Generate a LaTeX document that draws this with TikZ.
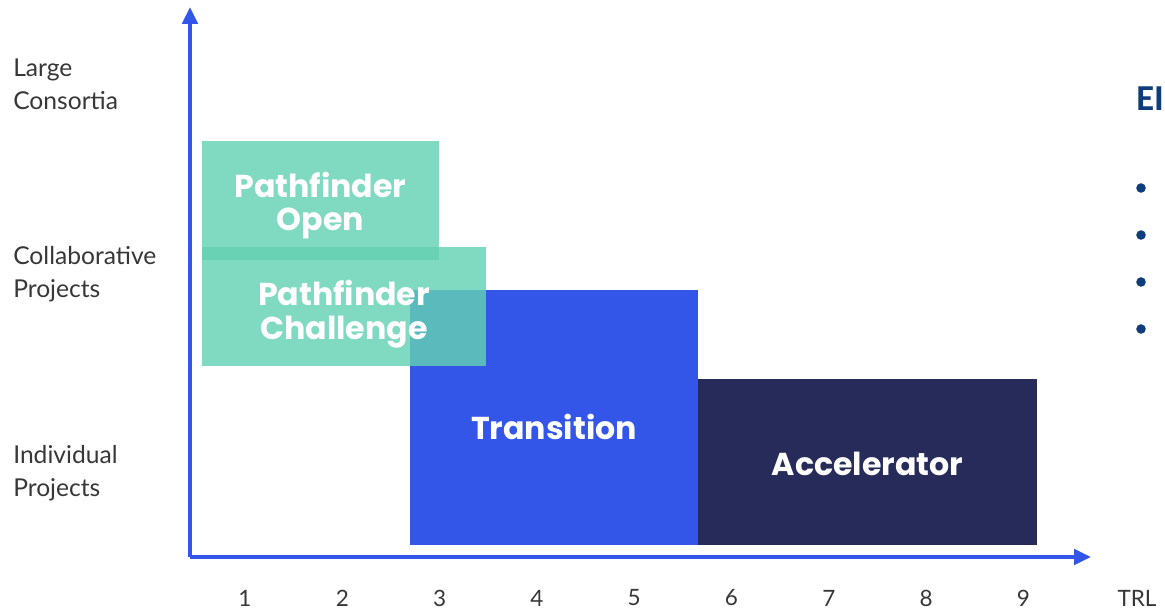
\documentclass[tikz,border=0pt]{standalone}
\usepackage{fontspec}
\setmainfont{Lato}
\newfontfamily\progfont{Poppins}
\newfontfamily\eifont{Carlito}
\usetikzlibrary{arrows.meta, positioning}
\definecolor{axisblue}{RGB}{51,85,232}
\definecolor{mint}{RGB}{100,209,179}
\definecolor{navy}{RGB}{38,43,90}
\definecolor{eiblue}{RGB}{13,61,122}
\definecolor{labelgray}{RGB}{55,55,55}
% shift a line down without changing its box
\newcommand\lowered[2]{\raisebox{-#1}[\height][\depth]{#2}}

\begin{document}
\begin{tikzpicture}[x=0.025cm, y=-0.025cm, >={Triangle[length=12pt, width=11pt]},
    prog/.style={rectangle, inner sep=0pt, text=white, align=center, font=\progfont\bfseries\fontsize{22.5}{24}\selectfont},
    level/.style={anchor=west, align=left, inner sep=0pt, text=labelgray, font=\fontsize{17.5}{23.5}\selectfont},
    trl/.style={inner sep=0pt, text=labelgray, font=\fontsize{16}{18}\selectfont},
    dot/.style={circle, fill=eiblue, inner sep=0pt, minimum size=6.8pt}]
  \useasboundingbox (0,0) rectangle (1165,612);

  % programme boxes
  \node[prog, fill=axisblue, minimum width=7.2cm, minimum height=6.375cm]   (trans) at (554,417.5) {\lowered{7pt}{Transition}};
  \node[prog, fill=navy, minimum width=8.475cm, minimum height=4.15cm]      (accel) at (867.5,462) {\lowered{1.4pt}{Accelerator}};
  \node[prog, fill=mint, fill opacity=0.82, text opacity=1, minimum width=5.925cm, minimum height=2.975cm] (open) at (320.5,200.5)
    {\lowered{3.5pt}{Pathfinder}\\\lowered{3.5pt}{Open}};
  \node[prog, fill=mint, fill opacity=0.82, text opacity=1, minimum width=7.1cm, minimum height=2.975cm]   (chall) at (344,306.5)
    {\lowered{5.7pt}{Pathfinder}\\\lowered{5.7pt}{Challenge}};

  % axes
  \coordinate (origin) at (190,557);
  \coordinate (ytop)   at (190,7);
  \coordinate (xend)   at (1091,557);
  \draw[->, axisblue, line width=2.6pt] (origin) -- (ytop);
  \draw[->, axisblue, line width=2.6pt] (origin) -- (xend);

  % scale labels
  \foreach \i in {1,...,9}
    \node[trl] (t\i) at ({245+97.3*(\i-1)},598) {\i};
  \node[trl] (trl) at (1137,598) {TRL};

  \node[level] (large)  at (13,84)  {Large\\Consortia};
  \node[level] (collab) at (13,274) {Collaborative\\Projects};
  \node[level] (indiv)  at (13,473) {Individual\\Projects};

  % cut-off side panel
  \node[anchor=base west, inner sep=0pt, text=eiblue, font=\eifont\bfseries\fontsize{26}{28}\selectfont] (ei) at (1136,110) {EI};
  \foreach \y [count=\k] in {188,235,282,329}
    \node[dot] (b\k) at (1141,\y) {};
\end{tikzpicture}
\end{document}
